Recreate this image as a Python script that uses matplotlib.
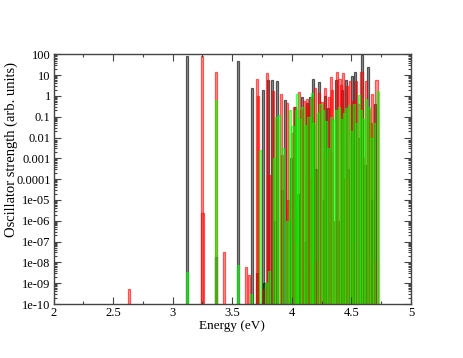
#!/usr/bin/env python3
"""Oscillator strength stick spectrum, three runs overlaid on a log axis."""
import matplotlib

matplotlib.use("Agg")
import matplotlib.pyplot as plt
from matplotlib.ticker import FixedLocator, LogLocator, MultipleLocator, NullFormatter

# energies (eV) and oscillator strengths
black_energy = [
    3.122, 3.361, 3.545, 3.665, 3.710, 3.755, 3.770, 3.800, 3.830, 3.860,
    3.873, 3.920, 3.942, 3.990, 4.026, 4.050, 4.082, 4.110, 4.124, 4.152,
    4.180, 4.200, 4.230, 4.260, 4.278, 4.306, 4.330, 4.368, 4.390, 4.420,
    4.454, 4.470, 4.502, 4.532, 4.560, 4.590, 4.610, 4.638, 4.670, 4.700,
]
black_strength = [
    83, 1.9e-8, 49, 2.5, 3e-9, 2.0, 1e-9, 5.8, 5.8, 1e-6,
    5.3, 3e-5, 0.63, 1e-3, 0.3, 2e-5, 0.9, 1e-7, 0.45, 0.9,
    6.3, 3e-4, 4.8, 1e-5, 0.95, 0.25, 2e-3, 5.8, 1e-6, 1.9,
    6.0, 3e-4, 9.0, 14.5, 1e-2, 95, 5e-4, 25, 1e-5, 0.4,
]

red_energy = [
    2.635, 3.243, 3.250, 3.361, 3.433, 3.615, 3.637, 3.707, 3.718, 3.770,
    3.794, 3.805, 3.844, 3.873, 3.906, 3.917, 3.956, 3.965, 4.000, 4.015,
    4.030, 4.057, 4.075, 4.100, 4.124, 4.135, 4.150, 4.170, 4.194, 4.210,
    4.230, 4.250, 4.278, 4.290, 4.312, 4.326, 4.340, 4.360, 4.381, 4.400,
    4.412, 4.431, 4.450, 4.465, 4.490, 4.510, 4.520, 4.540, 4.565, 4.585,
    4.600, 4.620, 4.645, 4.660, 4.675, 4.690, 4.711,
]
red_strength = [
    5e-10, 83, 2.4e-6, 13.5, 3e-8, 6.3e-9, 2.5e-9, 6.3, 1.0, 5e-10,
    12, 1.6e-4, 1.7, 0.068, 1.3, 1.4e-3, 0.47, 1e-5, 0.017, 0.3,
    1e-7, 1.6, 0.2, 0.58, 0.75, 0.35, 1e-4, 0.8, 2.3, 1e-8,
    1.4, 0.5, 2.3, 1e-3, 0.9, 8.3, 1.9, 1e-6, 13.5, 6.5,
    3.5, 12, 1e-4, 3.0, 5.0, 0.6, 1e-7, 5.0, 0.4, 14,
    1e-3, 5.0, 0.2, 0.05, 1.3, 1e-8, 6.0,
]

green_energy = [
    3.122, 3.361, 3.545, 3.657, 3.732, 3.780, 3.810, 3.850, 3.870, 3.894,
    3.925, 3.960, 3.984, 4.006, 4.036, 4.045, 4.064, 4.090, 4.108, 4.140,
    4.166, 4.182, 4.218, 4.240, 4.262, 4.290, 4.305, 4.332, 4.350, 4.372,
    4.394, 4.416, 4.440, 4.458, 4.482, 4.498, 4.520, 4.538, 4.560, 4.578,
    4.600, 4.622, 4.650, 4.668, 4.690, 4.720,
]
green_strength = [
    3.4e-9, 0.63, 7.6e-9, 3.2e-10, 2.6e-3, 1e-9, 4e-9, 1e-3, 0.1, 0.12,
    3e-3, 1e-6, 0.22, 0.035, 0.2, 1.2, 0.08, 0.3, 0.04, 0.1,
    1.35, 0.05, 0.15, 0.4, 0.2, 0.06, 0.003, 0.1, 0.07, 0.2,
    0.3, 0.08, 0.15, 0.25, 0.35, 0.02, 0.4, 0.05, 1.1, 0.2,
    0.08, 0.7, 0.3, 0.01, 0.05, 1.7,
]

Y_MIN = 1e-10
Y_MAX = 100
y_ticks = [1e-10, 1e-9, 1e-8, 1e-7, 1e-6, 1e-5, 1e-4, 1e-3, 1e-2, 1e-1, 1, 10, 100]
y_tick_labels = [
    "1e-10", "1e-09", "1e-08", "1e-07", "1e-06", "1e-05",
    "0.0001", "0.001", "0.01", "0.1", "1", "10", "100",
]

plt.rcParams["font.family"] = ["Liberation Serif", "DejaVu Serif"]

fig = plt.figure(figsize=(4.63, 3.58), dpi=100)
ax = fig.add_axes([0.1156, 0.1508, 0.7721, 0.6975])

series = [
    (black_energy, black_strength, (0, 0, 0)),
    (red_energy, red_strength, (1, 0, 0)),
    (green_energy, green_strength, (0, 1, 0)),
]
for energy, strength, rgb in series:
    heights = [s - Y_MIN for s in strength]
    ax.bar(
        energy,
        heights,
        bottom=Y_MIN,
        width=0.018,
        facecolor=rgb + (0.4,),
        edgecolor=rgb + (0.6,),
        linewidth=0.9,
        align="center",
    )

ax.set_yscale("log")
ax.set_xlim(2, 5)
ax.set_ylim(Y_MIN, Y_MAX)
ax.xaxis.set_major_locator(MultipleLocator(0.5))
ax.xaxis.set_minor_locator(MultipleLocator(0.25))
ax.set_xticks([2, 2.5, 3, 3.5, 4, 4.5, 5], ["2", "2.5", "3", "3.5", "4", "4.5", "5"])
ax.yaxis.set_major_locator(FixedLocator(y_ticks))
ax.yaxis.set_minor_locator(LogLocator(base=10, subs=range(2, 10), numticks=30))
ax.yaxis.set_minor_formatter(NullFormatter())
ax.set_yticks(y_ticks, y_tick_labels)

ax.tick_params(which="both", direction="in", top=True, right=True,
               color="#444444", width=0.8, labelsize=9, pad=2)
ax.tick_params(which="major", length=5)
ax.tick_params(which="minor", length=2.5)
for spine in ax.spines.values():
    spine.set_color("#444444")
    spine.set_linewidth(1.0)

ax.set_xlabel("Energy (eV)", fontsize=9.5, labelpad=1)
ax.set_ylabel("Oscillator strength (arb. units)", fontsize=10.5)
ax.yaxis.set_label_coords(-0.098, 0.62)

fig.savefig("out.png", dpi=100)
plt.close(fig)
